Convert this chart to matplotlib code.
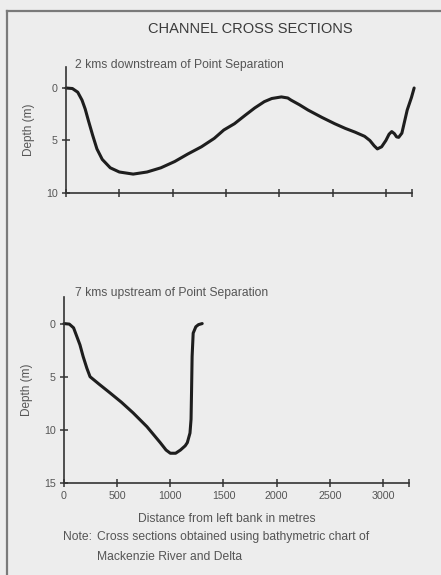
import matplotlib
matplotlib.use("Agg")
import matplotlib.pyplot as plt
from matplotlib.lines import Line2D

plt.rcParams['font.family'] = ['Liberation Sans', 'DejaVu Sans']

# --- data ---
down_dist = [0, 60, 110, 150, 180, 210, 250, 290, 340, 415, 500, 630, 760, 890, 1020,
             1140, 1270, 1390, 1480, 1580, 1680, 1770, 1860, 1930, 2020, 2080, 2110,
             2190, 2270, 2400, 2520, 2620, 2710, 2800, 2850, 2890, 2920, 2960, 3000,
             3030, 3055, 3080, 3100, 3120, 3150, 3200, 3240, 3265]
down_depth = [0, 0.05, 0.4, 1.15, 2.0, 3.1, 4.5, 5.8, 6.8, 7.6, 8.0, 8.2, 8.0, 7.6, 7.0,
              6.3, 5.6, 4.8, 4.0, 3.4, 2.6, 1.9, 1.3, 1.0, 0.85, 0.95, 1.15,
              1.6, 2.1, 2.8, 3.4, 3.85, 4.2, 4.6, 5.0, 5.5, 5.8, 5.6, 5.0,
              4.4, 4.15, 4.35, 4.65, 4.7, 4.3, 2.1, 0.9, 0.0]

up_dist = [0, 50, 90, 120, 150, 180, 215, 245, 330, 430, 540, 650, 780, 905, 960, 1000,
           1050, 1095, 1140, 1160, 1185, 1195, 1200, 1205, 1215, 1240, 1265, 1300]
up_depth = [0, 0.05, 0.4, 1.2, 2.0, 3.1, 4.2, 5.0, 5.7, 6.5, 7.4, 8.4, 9.7, 11.2, 11.9, 12.2,
            12.2, 11.9, 11.5, 11.2, 10.3, 9.0, 6.2, 3.1, 0.9, 0.3, 0.1, 0.0]

x_ticks = [0, 500, 1000, 1500, 2000, 2500, 3000]
x_ticklabels = ['0', '500', '1000', '1500', '2000', '2500', '3000']
top_yticks = [0, 5, 10]
bot_yticks = [0, 5, 10, 15]

title = "CHANNEL CROSS SECTIONS"
top_sub = "2 kms downstream of Point Separation"
bot_sub = "7 kms upstream of Point Separation"
ylabel = "Depth (m)"
xlabel = "Distance from left bank in metres"
note1 = "Note:"
note2a = "Cross sections obtained using bathymetric chart of"
note2b = "Mackenzie River and Delta"

W, H = 441, 575
BG = '#ededed'
TXT = '#555555'
AX = '#333333'

fig = plt.figure(figsize=(W / 100, H / 100), dpi=100, facecolor=BG)

# border lines (top and left)
fig.add_artist(Line2D([7 / W, 1.0], [1 - 11 / H, 1 - 11 / H], color='#7a7a7a', lw=1.6))
fig.add_artist(Line2D([7 / W, 7 / W], [0, 1 - 11 / H], color='#7a7a7a', lw=1.6))


def style(ax, xmax, ylim, yticks, show_xlabels):
    ax.set_facecolor(BG)
    ax.set_xlim(0, xmax)
    ax.set_ylim(*ylim)
    for s in ['top', 'right']:
        ax.spines[s].set_visible(False)
    for s in ['left', 'bottom']:
        ax.spines[s].set_color(AX)
        ax.spines[s].set_linewidth(1.2)
    ax.set_xticks(x_ticks + [xmax])
    if show_xlabels:
        ax.set_xticklabels(x_ticklabels + [''])
    else:
        ax.set_xticklabels([''] * (len(x_ticks) + 1))
    ax.set_yticks(yticks)
    ax.set_yticklabels([str(t) for t in yticks])
    ax.tick_params(axis='x', direction='inout', length=6, width=1.1, color=AX,
                   labelsize=7.7, labelcolor=TXT, pad=3)
    ax.tick_params(axis='y', direction='inout', length=6, width=1.1, color=AX,
                   labelsize=7.7, labelcolor=TXT, pad=3)
    ax.set_ylabel(ylabel, fontsize=8.5, color=TXT, labelpad=8)


# top axes
ax1 = fig.add_axes([66 / W, 1 - 193 / H, 346 / W, (193 - 67) / H])
ax1.plot(down_dist, down_depth, color='#1e1e1e', lw=2.2, clip_on=False,
         solid_capstyle='round', solid_joinstyle='round')
style(ax1, 3245, (10, -2), top_yticks, False)
fig.text(75 / W, 1 - 65 / H, top_sub, fontsize=8.7, color=TXT, va='center', ha='left')

# bottom axes
ax2 = fig.add_axes([64 / W, 1 - 483 / H, 345 / W, (483 - 297) / H])
ax2.plot(up_dist, up_depth, color='#1e1e1e', lw=2.2, clip_on=False,
         solid_capstyle='round', solid_joinstyle='round')
style(ax2, 3245, (15, -2.5), bot_yticks, True)
fig.text(75 / W, 1 - 293 / H, bot_sub, fontsize=8.7, color=TXT, va='center', ha='left')
fig.text(227 / W, 1 - 519 / H, xlabel, fontsize=8.7, color=TXT, va='center', ha='center')

fig.text(250 / W, 1 - 29 / H, title, fontsize=10.5, color='#3a3a3a', ha='center', va='center')
fig.text(63 / W, 1 - 537 / H, note1, fontsize=8.7, color=TXT, ha='left', va='center')
fig.text(97 / W, 1 - 537 / H, note2a, fontsize=8.7, color=TXT, ha='left', va='center')
fig.text(97 / W, 1 - 557 / H, note2b, fontsize=8.7, color=TXT, ha='left', va='center')

fig.savefig('out.png', dpi=100, facecolor=BG)
